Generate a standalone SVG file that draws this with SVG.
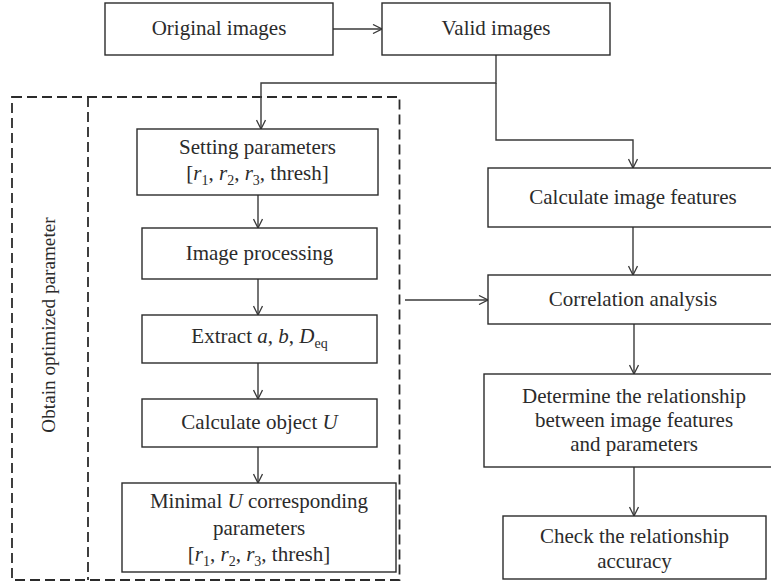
<svg xmlns="http://www.w3.org/2000/svg" width="771" height="584" viewBox="0 0 771 584">
<style>
.box{fill:#fff;stroke:#2b2b2b;stroke-width:1.4}
.t{font-family:"Liberation Serif",serif;font-size:21px;fill:#2b2b2b;text-anchor:middle}
.i{font-style:italic}
.s{font-size:14px}
.c{fill:none;stroke:#3a3a3a;stroke-width:1.4}
.d{fill:none;stroke:#2b2b2b;stroke-width:1.8;stroke-dasharray:10 5}
</style>
<defs>
<marker id="a" viewBox="0 0 10 10" refX="10" refY="5" markerWidth="10" markerHeight="10" markerUnits="userSpaceOnUse" orient="auto">
<polyline points="1,0.5 10,5 1,9.5" fill="none" stroke="#3a3a3a" stroke-width="1.3"/>
</marker>
</defs>
<rect width="771" height="584" fill="#fff"/>
<g id="group">
<rect class="d" x="12" y="97" width="387.5" height="483"/>
<line class="d" x1="88" y1="97" x2="88" y2="580"/>
<text class="t" style="font-size:19.2px" transform="translate(55,325) rotate(-90)">Obtain optimized parameter</text>
</g>
<g id="connectors">
<line class="c" x1="333" y1="29" x2="382" y2="29" marker-end="url(#a)"/>
<polyline class="c" points="496,55 496,83 261,83 261,129" marker-end="url(#a)"/>
<polyline class="c" points="496,83 496,140 633,140 633,168" marker-end="url(#a)"/>
<line class="c" x1="258" y1="195" x2="258" y2="228" marker-end="url(#a)"/>
<line class="c" x1="258" y1="279" x2="258" y2="315" marker-end="url(#a)"/>
<line class="c" x1="258" y1="363" x2="258" y2="399" marker-end="url(#a)"/>
<line class="c" x1="258" y1="447" x2="258" y2="483" marker-end="url(#a)"/>
<line class="c" x1="633" y1="227" x2="633" y2="275" marker-end="url(#a)"/>
<line class="c" x1="405" y1="300" x2="488" y2="300" marker-end="url(#a)"/>
<line class="c" x1="634" y1="324" x2="634" y2="374" marker-end="url(#a)"/>
<line class="c" x1="634" y1="467" x2="634" y2="516" marker-end="url(#a)"/>
</g>
<g id="original">
<rect class="box" x="105" y="3" width="228" height="52"/>
<text class="t" x="219" y="35">Original images</text>
</g>
<g id="valid">
<rect class="box" x="382" y="3" width="228" height="52"/>
<text class="t" x="496" y="35">Valid images</text>
</g>
<g id="setting">
<rect class="box" x="137" y="129" width="241" height="66"/>
<text class="t" x="257.5" y="154">Setting parameters</text>
<text class="t" x="257.5" y="180">[<tspan class="i">r</tspan><tspan class="s" dy="5">1</tspan><tspan dy="-5">, </tspan><tspan class="i">r</tspan><tspan class="s" dy="5">2</tspan><tspan dy="-5">, </tspan><tspan class="i">r</tspan><tspan class="s" dy="5">3</tspan><tspan dy="-5">, thresh]</tspan></text>
</g>
<g id="processing">
<rect class="box" x="142" y="228" width="235" height="51"/>
<text class="t" x="259.5" y="260">Image processing</text>
</g>
<g id="extract">
<rect class="box" x="142" y="315" width="235" height="48"/>
<text class="t" x="259.5" y="343">Extract <tspan class="i">a</tspan>, <tspan class="i">b</tspan>, <tspan class="i">D</tspan><tspan class="s" dy="5">eq</tspan></text>
</g>
<g id="calcU">
<rect class="box" x="142" y="399" width="235" height="48"/>
<text class="t" x="259.5" y="429">Calculate object <tspan class="i">U</tspan></text>
</g>
<g id="minimal">
<rect class="box" x="122" y="483" width="274" height="89"/>
<text class="t" x="259" y="508">Minimal <tspan class="i">U</tspan> corresponding</text>
<text class="t" x="259" y="535">parameters</text>
<text class="t" x="259" y="561">[<tspan class="i">r</tspan><tspan class="s" dy="5">1</tspan><tspan dy="-5">, </tspan><tspan class="i">r</tspan><tspan class="s" dy="5">2</tspan><tspan dy="-5">, </tspan><tspan class="i">r</tspan><tspan class="s" dy="5">3</tspan><tspan dy="-5">, thresh]</tspan></text>
</g>
<g id="features">
<rect class="box" x="488" y="168" width="290" height="59"/>
<text class="t" x="633" y="204">Calculate image features</text>
</g>
<g id="correlation">
<rect class="box" x="488" y="275" width="290" height="49"/>
<text class="t" x="633" y="306">Correlation analysis</text>
</g>
<g id="determine">
<rect class="box" x="484" y="374" width="300" height="93"/>
<text class="t" x="634" y="403">Determine the relationship</text>
<text class="t" x="634" y="427">between image features</text>
<text class="t" x="634" y="451">and parameters</text>
</g>
<g id="check">
<rect class="box" x="503" y="516" width="263" height="63"/>
<text class="t" x="634.5" y="543">Check the relationship</text>
<text class="t" x="634.5" y="568">accuracy</text>
</g>
</svg>
